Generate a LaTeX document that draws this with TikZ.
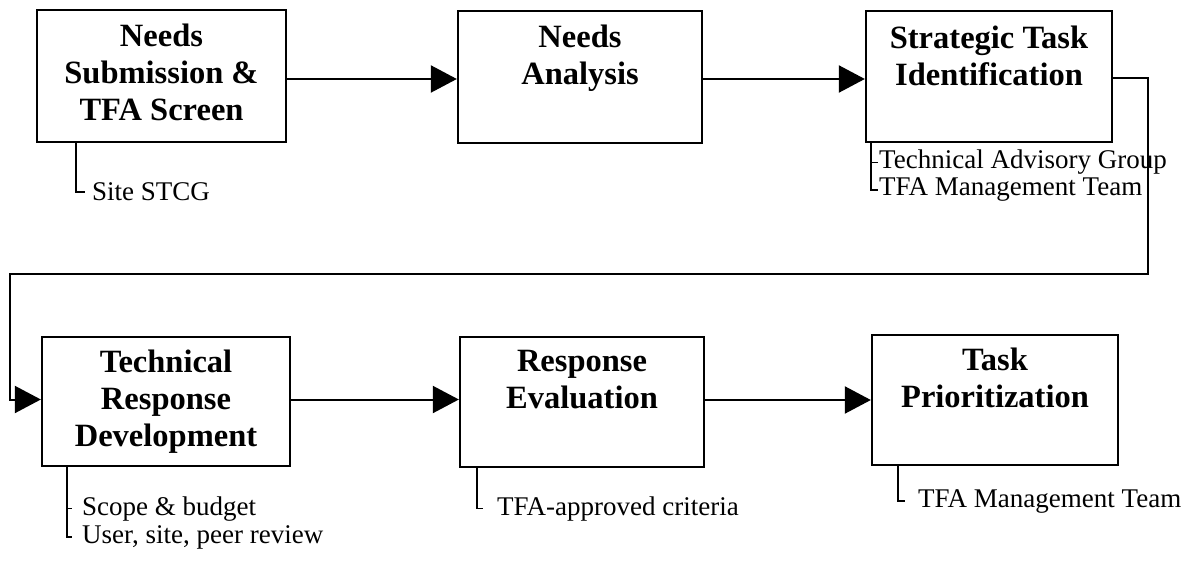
\documentclass[tikz,border=0pt]{standalone}
\usepackage{fontspec}
\setmainfont{Liberation Serif}
\usetikzlibrary{arrows.meta,calc}
\begin{document}
\begin{tikzpicture}[x=1pt,y=-1pt,
  box/.style={draw,line width=2.3pt,rectangle,inner sep=0pt},
  title/.style={anchor=north,align=center,inner sep=0pt,font=\fontsize{32.5}{37}\selectfont\bfseries},
  note/.style={anchor=base west,inner sep=0pt,align=left,font=\fontsize{27}{30}\selectfont},
  flow/.style={line width=2pt,-{Triangle[length=26pt,width=27pt]}},
  ann/.style={line width=1.5pt}]
\useasboundingbox (0,0) rectangle (1190,561);

% boxes
\node[box,minimum width=249pt,minimum height=132pt] (b1) at (161.5,76) {};
\node[box,minimum width=244pt,minimum height=132pt] (b2) at (580,77) {};
\node[box,minimum width=246pt,minimum height=131pt] (b3) at (989,76.5) {};
\node[box,minimum width=248pt,minimum height=129pt] (b4) at (166,401.5) {};
\node[box,minimum width=244pt,minimum height=130pt] (b5) at (582,402) {};
\node[box,minimum width=246pt,minimum height=130pt] (b6) at (995,400) {};

% titles
\node[title] (t1) at ([yshift=-15pt]b1.north) {Needs\\Submission \&\\TFA Screen};
\node[title] (t2) at ([yshift=-15pt]b2.north) {Needs\\Analysis};
\node[title] (t3) at ([yshift=-16pt]b3.north) {Strategic Task\\Identification};
\node[title] (t4) at ([yshift=-14pt]b4.north) {Technical\\Response\\Development};
\node[title] (t5) at ([yshift=-14pt]b5.north) {Response\\Evaluation};
\node[title] (t6) at ([yshift=-14pt]b6.north) {Task\\Prioritization};

% flow connectors
\draw[flow] ([yshift=-3pt]b1.east) -- ([yshift=-3pt]b1.east -| b2.west);
\draw[flow] ([yshift=-2pt]b2.east) -- ([yshift=-2pt]b2.east -| b3.west);
\coordinate (r1) at (1148,274);
\coordinate (l1) at (10,274);
\draw[flow] ([yshift=-1.5pt]b3.east) -| (r1) -- (l1) |- ([yshift=2pt]b4.west);
\draw[flow] ([yshift=2pt]b4.east) -- ([yshift=2pt]b4.east -| b5.west);
\draw[flow] ([yshift=2pt]b5.east) -- ([yshift=2pt]b5.east -| b6.west);

% annotations
\node[note] (n1) at (92,201) {Site STCG};
\draw[ann] ([xshift=40pt]b1.south west) |- ([xshift=-7pt]n1.west);

\node[note] (n3a) at (879,169) {Technical Advisory Group};
\node[note] (n3b) at (879,196) {TFA Management Team};
\draw[ann] ([xshift=6pt]b3.south west) |- ([xshift=-1pt]n3a.west);
\draw[ann] ([xshift=6pt]b3.south west) |- ([xshift=-1pt]n3b.west);

\node[note] (n4a) at (82,515) {Scope \& budget};
\node[note] (n4b) at (82,543) {User, site, peer review};
\draw[ann] ([xshift=26pt]b4.south west) |- ([xshift=-10pt]n4a.west);
\draw[ann] ([xshift=26pt]b4.south west) |- ([xshift=-10pt]n4b.west);

\node[note] (n5) at (497,515) {TFA-approved criteria};
\draw[ann] ([xshift=18pt]b5.south west) |- ([xshift=-14pt]n5.west);

\node[note] (n6) at (918,507) {TFA Management Team};
\draw[ann] ([xshift=27pt]b6.south west) |- ([xshift=-13pt]n6.west);
\end{tikzpicture}
\end{document}
